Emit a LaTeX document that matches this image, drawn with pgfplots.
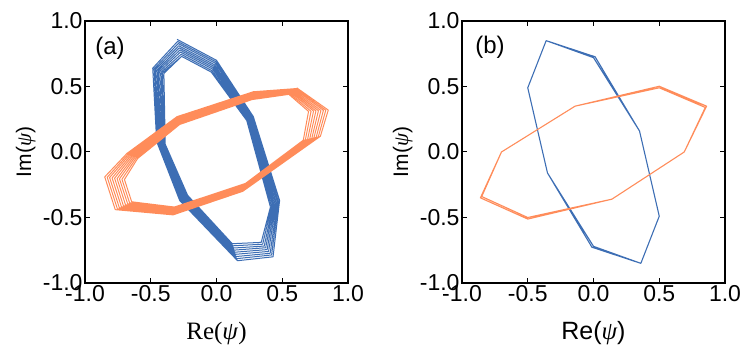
\documentclass[border=0pt]{standalone}
\usepackage{pgfplots}
\pgfplotsset{compat=1.18}
\usepackage{fontspec}
\setmainfont{Liberation Sans}
\newfontfamily\serifrm{Liberation Serif}
\definecolor{cblue}{RGB}{61,110,180}
\definecolor{corange}{RGB}{255,140,90}
\newcommand{\psisym}{{\serifrm\itshape ψ}}
\pgfplotsset{
  panel/.style={
    scale only axis, width=263bp, height=262bp,
    anchor=south west,
    xmin=-1, xmax=1, ymin=-1, ymax=1,
    xtick={-1,-0.5,0,0.5,1}, ytick={-1,-0.5,0,0.5,1},
    tick align=inside, major tick length=5bp,
    xtick pos=both, ytick pos=both,
    axis line style={line width=1.2bp},
    every tick/.style={line width=1bp, black},
    /pgf/number format/assume math mode=true,
    /pgf/number format/.cd, fixed, fixed zerofill, precision=1, /pgfplots/.cd,
    tick label style={font=\fontsize{23bp}{27bp}\selectfont},
    xticklabel style={yshift=1bp},
    yticklabel style={xshift=1bp},
    xlabel style={at={(axis description cs:0.5,-0.215)}, anchor=base},
    ylabel style={at={(axis description cs:-0.225,0.5)}, anchor=center},
    clip=true,
  }
}
\begin{document}
\begin{tikzpicture}
\useasboundingbox (0,0) rectangle (754bp,358bp);
% ---------------- panel (a)
\begin{axis}[panel, at={(85bp,75bp)},
  xlabel={\fontsize{25bp}{29bp}\selectfont\serifrm Re(\textit{ψ})},
  ylabel={\fontsize{21bp}{25bp}\selectfont Im(\psisym)}]
\addplot[cblue, line width=1bp, line join=round] coordinates {
(-0.300,0.860) (0.000,0.700) (0.280,0.270) (0.480,-0.370) (0.430,-0.800) (0.160,-0.830) (-0.280,-0.370) (-0.455,0.080) (-0.485,0.640)
(-0.296,0.844) (-0.005,0.689) (0.274,0.266) (0.471,-0.376) (0.419,-0.786) (0.155,-0.814) (-0.273,-0.365) (-0.447,0.078) (-0.474,0.635)
(-0.291,0.828) (-0.010,0.678) (0.268,0.263) (0.463,-0.383) (0.408,-0.773) (0.150,-0.798) (-0.265,-0.360) (-0.439,0.075) (-0.464,0.630)
(-0.287,0.811) (-0.015,0.666) (0.261,0.259) (0.454,-0.389) (0.396,-0.759) (0.145,-0.781) (-0.258,-0.355) (-0.431,0.073) (-0.453,0.625)
(-0.283,0.795) (-0.020,0.655) (0.255,0.255) (0.445,-0.395) (0.385,-0.745) (0.140,-0.765) (-0.250,-0.350) (-0.423,0.070) (-0.443,0.620)
(-0.278,0.779) (-0.025,0.644) (0.249,0.251) (0.436,-0.401) (0.374,-0.731) (0.135,-0.749) (-0.243,-0.345) (-0.414,0.068) (-0.432,0.615)
(-0.274,0.763) (-0.030,0.633) (0.243,0.248) (0.428,-0.408) (0.363,-0.718) (0.130,-0.733) (-0.235,-0.340) (-0.406,0.065) (-0.421,0.610)
(-0.269,0.746) (-0.035,0.621) (0.236,0.244) (0.419,-0.414) (0.351,-0.704) (0.125,-0.716) (-0.228,-0.335) (-0.398,0.063) (-0.411,0.605)
(-0.265,0.730) (-0.040,0.610) (0.230,0.240) (0.410,-0.420) (0.340,-0.690) (0.120,-0.700) (-0.220,-0.330) (-0.390,0.060) (-0.400,0.600)
(-0.265,0.730)
};
\addplot[corange, line width=1bp, line join=round] coordinates {
(0.610,0.490) (0.850,0.320) (0.790,0.120) (0.200,-0.300) (-0.330,-0.480) (-0.770,-0.440) (-0.850,-0.190) (-0.680,-0.010) (-0.300,0.270) (0.280,0.460)
(0.603,0.484) (0.831,0.319) (0.774,0.116) (0.203,-0.293) (-0.329,-0.473) (-0.754,-0.433) (-0.831,-0.193) (-0.670,-0.015) (-0.298,0.263) (0.279,0.453)
(0.595,0.478) (0.813,0.318) (0.758,0.113) (0.205,-0.285) (-0.328,-0.465) (-0.739,-0.425) (-0.813,-0.195) (-0.660,-0.020) (-0.295,0.255) (0.278,0.445)
(0.588,0.471) (0.794,0.316) (0.741,0.109) (0.208,-0.278) (-0.326,-0.458) (-0.723,-0.418) (-0.794,-0.198) (-0.650,-0.025) (-0.293,0.248) (0.276,0.438)
(0.580,0.465) (0.775,0.315) (0.725,0.105) (0.210,-0.270) (-0.325,-0.450) (-0.708,-0.410) (-0.775,-0.200) (-0.640,-0.030) (-0.290,0.240) (0.275,0.430)
(0.573,0.459) (0.756,0.314) (0.709,0.101) (0.213,-0.263) (-0.324,-0.443) (-0.692,-0.403) (-0.756,-0.203) (-0.630,-0.035) (-0.288,0.233) (0.274,0.423)
(0.565,0.453) (0.738,0.313) (0.693,0.098) (0.215,-0.255) (-0.323,-0.435) (-0.676,-0.395) (-0.738,-0.205) (-0.620,-0.040) (-0.285,0.225) (0.273,0.415)
(0.558,0.446) (0.719,0.311) (0.676,0.094) (0.218,-0.248) (-0.321,-0.428) (-0.661,-0.388) (-0.719,-0.208) (-0.610,-0.045) (-0.283,0.218) (0.271,0.408)
(0.550,0.440) (0.700,0.310) (0.660,0.090) (0.220,-0.240) (-0.320,-0.420) (-0.645,-0.380) (-0.700,-0.210) (-0.600,-0.050) (-0.280,0.210) (0.270,0.400)
(0.550,0.440)
};
\node[font=\fontsize{24bp}{28bp}\selectfont] at (axis cs:-0.81,0.79) {(a)};
\end{axis}
% ---------------- panel (b)
\begin{axis}[panel, at={(462bp,75bp)},
  xlabel={\fontsize{25bp}{29bp}\selectfont Re(\psisym)},
  ylabel={\fontsize{21bp}{25bp}\selectfont Im(\psisym)}]
\addplot[cblue, line width=1.1bp, line join=round] coordinates {
(-0.36,0.85) (0.00,0.72) (0.35,0.16) (0.50,-0.49) (0.36,-0.85) (0.00,-0.72) (-0.35,-0.16) (-0.50,0.49) (-0.36,0.85)
(0.012,0.727) (0.35,0.16) (0.50,-0.49) (0.36,-0.85) (-0.012,-0.727) (-0.35,-0.16) (-0.50,0.49) (-0.36,0.85)
};
\addplot[corange, line width=1.1bp, line join=round] coordinates {
(0.50,0.49) (0.85,0.34) (0.69,0.00) (0.14,-0.36) (-0.50,-0.50) (-0.85,-0.34) (-0.70,0.00) (-0.14,0.35) (0.50,0.49)
(0.86,0.35) (0.69,0.00) (0.14,-0.36) (-0.50,-0.512) (-0.86,-0.35) (-0.70,0.00) (-0.14,0.35) (0.50,0.502) (0.86,0.35)
};
\node[font=\fontsize{24bp}{28bp}\selectfont] at (axis cs:-0.787,0.80) {(b)};
\end{axis}
\end{tikzpicture}
\end{document}
